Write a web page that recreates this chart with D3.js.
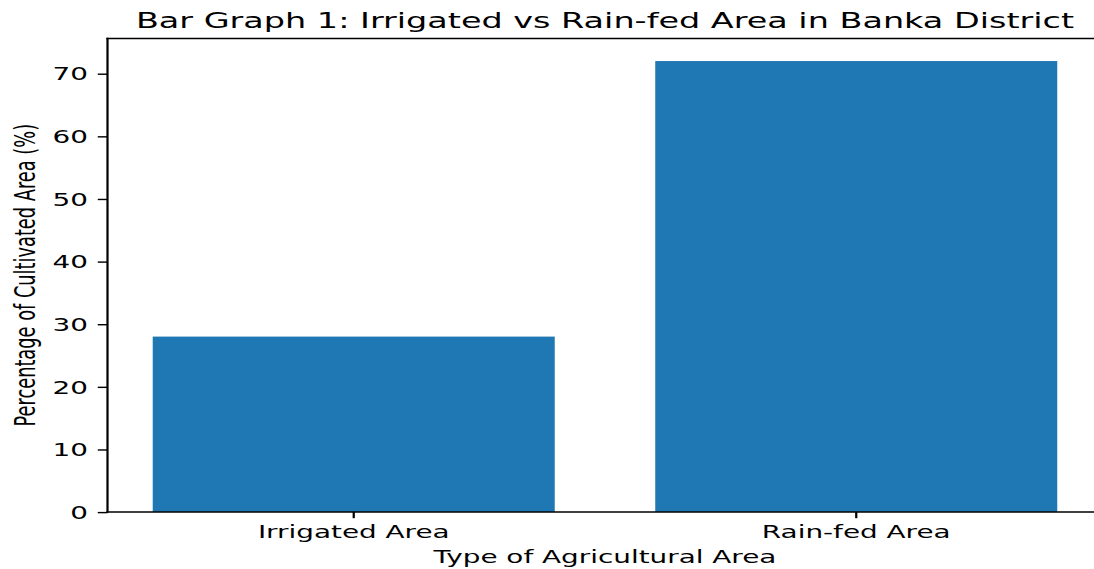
<!DOCTYPE html>
<html>
<head>
<meta charset="utf-8">
<script src="https://cdn.jsdelivr.net/npm/d3@7"></script>
<style>
  html, body { margin: 0; padding: 0; background: #fff; }
  svg { display: block; }
  text { font-family: "DejaVu Sans", sans-serif; fill: #000; }
</style>
</head>
<body>
<svg id="chart" width="1094" height="569"></svg>
<script>
// ---- data ----
const categories = ["Irrigated Area", "Rain-fed Area"];
const values = [28, 72];
const yTicks = [0, 10, 20, 30, 40, 50, 60, 70];
const titleText = "Bar Graph 1: Irrigated vs Rain-fed Area in Banka District";
const xLabelText = "Type of Agricultural Area";
const yLabelText = "Percentage of Cultivated Area (%)";

// ---- layout (figure drawn in its native space, then stretched like the reference) ----
const W = 496, H = 369.6;          // axes size in native px
const sx = 2.006, sy = 1.281;      // stretch of the reference image
const ox = 107.5, oy = 38.5;       // axes top-left in output px
const tickLen = 4.86, tickPad = 4.86, labelPad = 5.56, titlePad = 8.33;
const fs = 13.89, titleFs = 16.67;
const barColor = "#1f77b4";

const svg = d3.select("#chart");
svg.append("rect").attr("width", 1094).attr("height", 569).attr("fill", "#fff");

const g = svg.append("g").attr("transform", `translate(${ox},${oy}) scale(${sx},${sy})`);

const x = d3.scaleBand().domain(categories).range([0, W]).paddingInner(0.2).paddingOuter(0.09);
const yMax = d3.max(values) * 1.05;
const y = d3.scaleLinear().domain([0, yMax]).range([H, 0]);

// bars
g.selectAll("rect.bar").data(values).join("rect")
  .attr("class", "bar")
  .attr("x", (d, i) => x(categories[i]))
  .attr("width", x.bandwidth())
  .attr("y", d => y(d))
  .attr("height", d => y(0) - y(d))
  .attr("fill", barColor);

// spines
const sw = 1.11;
g.append("line").attr("x1", 0).attr("x2", 0).attr("y1", 0).attr("y2", H).attr("stroke", "#000").attr("stroke-width", sw).attr("stroke-linecap", "square");
g.append("line").attr("x1", W).attr("x2", W).attr("y1", 0).attr("y2", H).attr("stroke", "#000").attr("stroke-width", sw).attr("stroke-linecap", "square");
g.append("line").attr("x1", 0).attr("x2", W).attr("y1", 0).attr("y2", 0).attr("stroke", "#000").attr("stroke-width", sw).attr("stroke-linecap", "square");
g.append("line").attr("x1", 0).attr("x2", W).attr("y1", H).attr("y2", H).attr("stroke", "#000").attr("stroke-width", sw).attr("stroke-linecap", "square");

// y axis
const yAxis = d3.axisLeft(y).tickValues(yTicks).tickSize(tickLen).tickSizeOuter(0).tickPadding(tickPad).tickFormat(d3.format("d"));
const gy = g.append("g").call(yAxis);
gy.select(".domain").remove();
gy.selectAll(".tick line").attr("stroke", "#000").attr("stroke-width", sw);
gy.selectAll(".tick text").attr("font-size", fs).attr("font-family", "DejaVu Sans").attr("fill", "#000").attr("dy", "0.35em");

// x axis
const xAxis = d3.axisBottom(x).tickSize(tickLen).tickSizeOuter(0).tickPadding(tickPad);
const gx = g.append("g").attr("transform", `translate(0,${H})`).call(xAxis);
gx.select(".domain").remove();
gx.selectAll(".tick line").attr("stroke", "#000").attr("stroke-width", sw);
gx.selectAll(".tick text").attr("font-size", fs).attr("font-family", "DejaVu Sans").attr("fill", "#000").attr("dy", "0.76em");

// x label
g.append("text")
  .attr("x", W / 2)
  .attr("y", H + tickLen + tickPad + fs * 1.0 + labelPad + fs * 0.76)
  .attr("text-anchor", "middle")
  .attr("font-size", fs)
  .text(xLabelText);

// y label
const yLabX = -(tickLen + tickPad + 1.272 * fs + labelPad + 0.236 * fs);
g.append("text")
  .attr("transform", `translate(${yLabX},${H / 2}) rotate(-90)`)
  .attr("text-anchor", "middle")
  .attr("font-size", fs)
  .text(yLabelText);

// title
g.append("text")
  .attr("x", W / 2)
  .attr("y", -titlePad)
  .attr("text-anchor", "middle")
  .attr("font-size", titleFs)
  .text(titleText);
</script>
</body>
</html>
